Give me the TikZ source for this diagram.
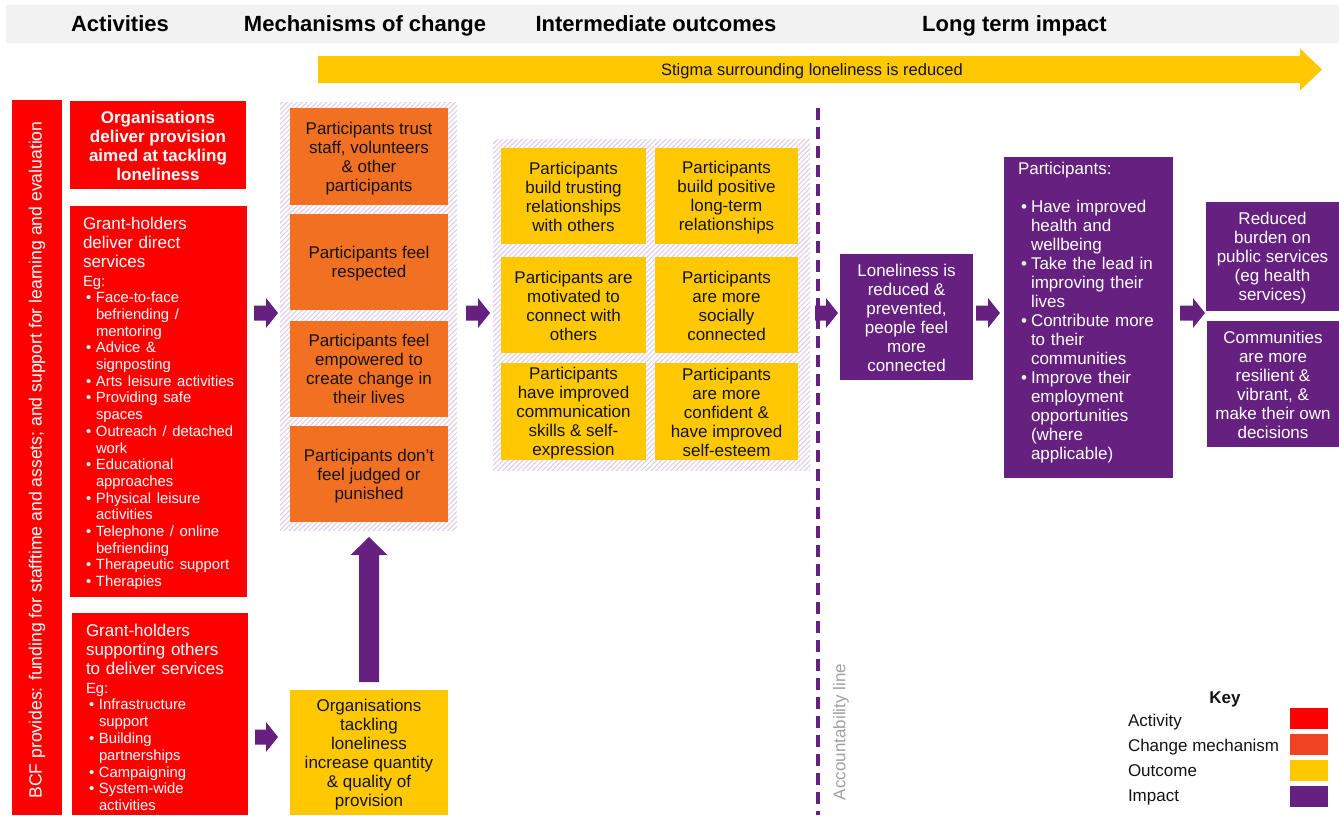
\documentclass[tikz,border=0pt]{standalone}
\usepackage{fontspec}
\setmainfont{Liberation Sans}
\usetikzlibrary{calc,patterns.meta}
\setlength{\parindent}{0pt}

\definecolor{actred}{RGB}{255,0,0}
\definecolor{mechor}{RGB}{241,112,34}
\definecolor{mechkey}{RGB}{239,68,35}
\definecolor{outy}{RGB}{255,200,0}
\definecolor{imppur}{RGB}{102,33,128}
\definecolor{headgray}{RGB}{242,242,242}
\definecolor{hatchc}{RGB}{224,200,234}
\definecolor{accgray}{RGB}{160,160,160}
\definecolor{ink}{RGB}{20,20,20}

\newcommand\fsz[2]{\fontsize{#1}{#2}\selectfont}
% struts that give every centred box text the same first-line height and last-line depth
\newcommand\hiS{\rule{0pt}{16pt}}
\newcommand\loS{\rule[-3pt]{0pt}{3pt}}
% bullet and continuation indent for the lists
\newcommand\bitem{\hspace*{3pt}\makebox[10pt][l]{\textbullet}}
\newcommand\bcont{\hspace*{13pt}}
% purple block arrow pointing right, between two points at the same height
\newcommand\rblock[4]{%
  \fill[imppur] let \p1=(#1), \p2=(#2) in
    (\x1+#3,\y1+7.5pt) -- (\x2-#4-12pt,\y1+7.5pt) -- (\x2-#4-12pt,\y1+15pt)
    -- (\x2-#4,\y1) -- (\x2-#4-12pt,\y1-15pt) -- (\x2-#4-12pt,\y1-7.5pt)
    -- (\x1+#3,\y1-7.5pt) -- cycle;}

\begin{document}
\begin{tikzpicture}[x=1pt,y=-1pt,
  every node/.style={inner sep=0pt, outer sep=0pt},
  box/.style={align=center, font=\fsz{17}{19}},
  actbox/.style={box, fill=actred, text=white},
  mechbox/.style={box, fill=mechor, text=ink, minimum width=158pt, minimum height=96pt},
  outbox/.style={box, fill=outy, text=ink, minimum height=96pt},
  impbox/.style={box, fill=imppur, text=white},
  hatchbg/.style={pattern={Lines[angle=45,distance=3.5pt,line width=1pt]}, pattern color=hatchc},
  listtext/.style={anchor=north west, align=left, text width=#1, font=\fsz{17}{19}},
  head/.style={font=\bfseries\fsz{22}{26}, text=black, text height=16pt, text depth=5pt},
  keylabel/.style={anchor=west, font=\fsz{17}{19}, text=ink, text height=12pt, text depth=3.5pt},
  swatch/.style={minimum width=38pt, minimum height=21pt},
  accline/.style={draw=imppur, line width=3.5pt, dash pattern=on 12pt off 7pt}]

\fill[white] (0,0) rectangle (1339,815);
\useasboundingbox (0,0) rectangle (1339,815);

% column headings
\node[fill=headgray, minimum width=1333pt, minimum height=38pt] (band) at (672.5,24) {};
\node[head] (h1) at (120,25.5) {Activities};
\node[head] (h2) at (365,25.5) {Mechanisms of change};
\node[head] (h3) at (656,25.5) {Intermediate outcomes};
\node[head] (h4) at (1014.5,25.5) {Long term impact};

% stigma arrow across the top
\coordinate (stigs) at (318,69.5);
\coordinate (stige) at (1322,69.5);
\fill[outy] let \p1=(stigs), \p2=(stige) in
  (\x1,\y1+13.5pt) -- (\x2-22pt,\y1+13.5pt) -- (\x2-22pt,\y1+21pt) -- (\x2,\y1)
  -- (\x2-22pt,\y1-21pt) -- (\x2-22pt,\y1-13.5pt) -- (\x1,\y1-13.5pt) -- cycle;
\node[font=\fsz{16.5}{19}, text=ink, text height=12pt, text depth=3.5pt] (stigma) at (812,71.7)
  {Stigma surrounding loneliness is reduced};

% activities
\node[actbox, minimum width=50pt, minimum height=715pt] (bcf) at (37,457.5) {};
\node[rotate=90, text=white, font=\fsz{17.6}{19}] (bcft) at (37,460)
  {BCF provides: funding for stafftime and assets; and support for learning and evaluation};
\node[actbox, font=\bfseries\fsz{17}{19}, minimum width=176pt, minimum height=88pt] (a1) at (158,145)
  {\hiS Organisations\\deliver provision\\aimed at tackling\\loneliness\loS};
\node[actbox, minimum width=177pt, minimum height=391pt] (a2) at (158.5,401.5) {};
\node[listtext=170pt, text=white] (a2t) at (83,217) {%
  {\fsz{17}{19}Grant-holders\\deliver direct\\services\par}\vspace{2pt}%
  {\fsz{14.8}{16.7}Eg:\\
  \bitem Face-to-face\\\bcont befriending /\\\bcont mentoring\\
  \bitem Advice \&\\\bcont signposting\\
  \bitem Arts leisure activities\\
  \bitem Providing safe\\\bcont spaces\\
  \bitem Outreach / detached\\\bcont work\\
  \bitem Educational\\\bcont approaches\\
  \bitem Physical leisure\\\bcont activities\\
  \bitem Telephone / online\\\bcont befriending\\
  \bitem Therapeutic support\\
  \bitem Therapies\par}};
\node[actbox, minimum width=176pt, minimum height=202pt] (a3) at (160,714) {};
\node[listtext=170pt, text=white] (a3t) at (86,624) {%
  {\fsz{17}{19}Grant-holders\\supporting others\\to deliver services\par}\vspace{2pt}%
  {\fsz{14.8}{16.8}Eg:\\
  \bitem Infrastructure\\\bcont support\\
  \bitem Building\\\bcont partnerships\\
  \bitem Campaigning\\
  \bitem System-wide\\\bcont activities\par}};

% mechanisms of change
\node[hatchbg, minimum width=177pt, minimum height=428pt] (mbg) at (368.5,316) {};
\node[mechbox, minimum height=97pt] (m1) at (369,156.5) {\hiS Participants trust\\staff, volunteers\\\& other\\participants\loS};
\node[mechbox] (m2) at (369,262) {\hiS Participants feel\\respected\loS};
\node[mechbox] (m3) at (369,368.5) {\hiS Participants feel\\empowered to\\create change in\\their lives\loS};
\node[mechbox] (m4) at (369,474) {\hiS Participants don’t\\feel judged or\\punished\loS};
\node[outbox, minimum width=158pt, minimum height=125pt] (ybox) at (369,752.5)
  {\hiS Organisations\\tackling\\loneliness\\increase quantity\\\& quality of\\provision\loS};

% intermediate outcomes
\node[hatchbg, minimum width=317pt, minimum height=331pt] (obg) at (651.5,304.5) {};
\node[outbox, minimum width=145pt] (o11) at (573.5,196) {\hiS Participants\\build trusting\\relationships\\with others\loS};
\node[outbox, minimum width=143pt] (o12) at (726.5,196) {\hiS Participants\\build positive\\long-term\\relationships\loS};
\node[outbox, minimum width=145pt] (o21) at (573.5,305) {\hiS Participants are\\motivated to\\connect with\\others\loS};
\node[outbox, minimum width=143pt] (o22) at (726.5,305) {\hiS Participants\\are more\\socially\\connected\loS};
\node[outbox, minimum width=145pt, minimum height=97pt] (o31) at (573.5,411.5) {\hiS Participants\\have improved\\communication\\skills \& self-\\expression\loS};
\node[outbox, minimum width=143pt, minimum height=97pt] (o32) at (726.5,411.5) {\hiS Participants\\are more\\confident \&\\have improved\\self-esteem\loS};

% accountability line
\coordinate (acctop) at (818,108);
\coordinate (accbot) at (818,815);
\draw[accline] (acctop) -- (accbot);
\node[rotate=90, text=accgray, font=\fsz{17}{19}] (acclbl) at (841,732) {Accountability line};

% long term impact
\node[impbox, minimum width=133pt, minimum height=126pt] (lon) at (906.5,317)
  {\hiS Loneliness is\\reduced \&\\prevented,\\people feel\\more\\connected\loS};
\node[impbox, minimum width=169pt, minimum height=321pt] (part) at (1088.5,317.5) {};
\node[listtext=160pt, text=white] (partt) at (1018,162) {Participants:\\\mbox{}\\
  \bitem Have improved\\\bcont health and\\\bcont wellbeing\\
  \bitem Take the lead in\\\bcont improving their\\\bcont lives\\
  \bitem Contribute more\\\bcont to their\\\bcont communities\\
  \bitem Improve their\\\bcont employment\\\bcont opportunities\\\bcont (where\\\bcont applicable)};
\node[impbox, minimum width=133pt, minimum height=109pt] (burden) at (1272.5,256.5)
  {\hiS Reduced\\burden on\\public services\\(eg health\\services)\loS};
\node[impbox, minimum width=132pt, minimum height=126pt] (comm) at (1273,384)
  {\hiS Communities\\are more\\resilient \&\\vibrant, \&\\make their own\\decisions\loS};

% block arrows between the columns
\coordinate (rowA) at (0,313);
\coordinate (rowB) at (0,737);
\rblock{a2.east |- rowA}{mbg.west |- rowA}{7pt}{2pt}
\rblock{a3.east |- rowB}{ybox.west |- rowB}{7pt}{12pt}
\rblock{mbg.east |- rowA}{obg.west |- rowA}{9pt}{3pt}
\rblock{obg.east |- rowA}{lon.west |- rowA}{5pt}{2pt}
\rblock{lon.east |- rowA}{part.west |- rowA}{3pt}{4pt}
\rblock{part.east |- rowA}{burden.west |- rowA}{7pt}{1pt}
\fill[imppur] let \p1=(ybox.north), \p2=(mbg.south) in
  (\x1-10pt,\y1+8pt) -- (\x1-10pt,\y2-25pt) -- (\x1-18.5pt,\y2-25pt) -- (\x1,\y2-7pt)
  -- (\x1+18.5pt,\y2-25pt) -- (\x1+10pt,\y2-25pt) -- (\x1+10pt,\y1+8pt) -- cycle;

% key
\node[font=\bfseries\fsz{17}{19}, text=ink, text height=12pt, text depth=3.5pt] (keyt) at (1225,699.5) {Key};
\node[keylabel] (k1) at (1128,722.5) {Activity};
\node[keylabel] (k2) at (1128,747.5) {Change mechanism};
\node[keylabel] (k3) at (1128,772.5) {Outcome};
\node[keylabel] (k4) at (1128,797.5) {Impact};
\node[swatch, fill=actred] (s1) at (1309,718.5) {};
\node[swatch, fill=mechkey] (s2) at (1309,744.5) {};
\node[swatch, fill=outy] (s3) at (1309,770.5) {};
\node[swatch, fill=imppur] (s4) at (1309,796.5) {};
\end{tikzpicture}
\end{document}
